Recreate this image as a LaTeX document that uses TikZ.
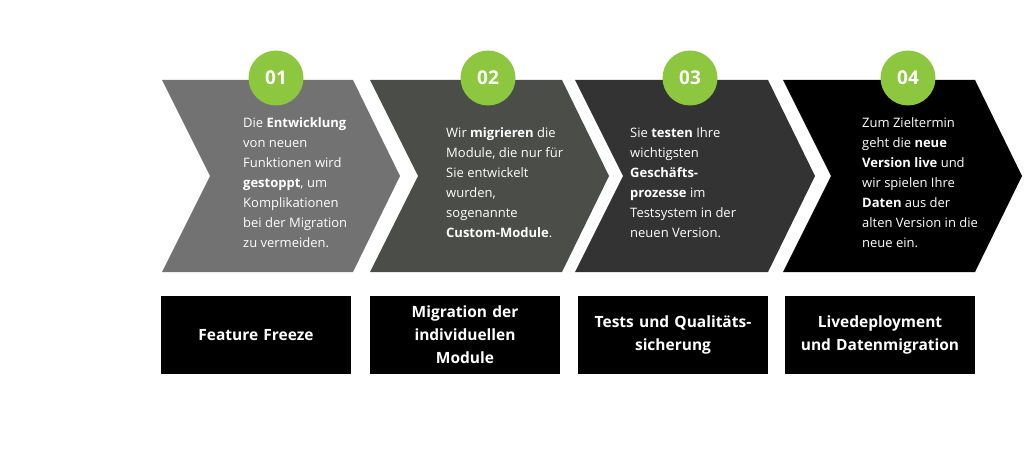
\documentclass[tikz,border=0pt]{standalone}
\usepackage{fontspec}
\setmainfont{Open Sans}
\usetikzlibrary{positioning}
\definecolor{stepgreen}{HTML}{8DC63F}
\definecolor{chevA}{HTML}{727272}
\definecolor{chevB}{HTML}{4B4E48}
\definecolor{chevC}{HTML}{333333}
\definecolor{chevD}{HTML}{000000}
\tikzset{
  numcircle/.style={circle, fill=stepgreen, minimum size=55pt, inner sep=0, text=white, font=\fontsize{19}{19}\selectfont\bfseries},
  desc/.style={anchor=west, align=left, text=white, font=\fontsize{13}{20}\selectfont, inner sep=0},
  labelbox/.style={fill=black, minimum width=190pt, minimum height=78pt, text width=180pt, align=center, text=white, font=\fontsize{15.5}{23}\selectfont\bfseries, inner sep=0},
}
\begin{document}
\begin{tikzpicture}[x=1pt,y=-1pt]
\useasboundingbox (0,0) rectangle (1024,449);
% chevrons
\foreach \l/\r/\c in {162/353/chevA, 370/562/chevB, 575/768/chevC, 783/975/chevD}
  \fill[\c] (\l,80) -- (\r,80) -- (\r+47,176) -- (\r,272) -- (\l,272) -- (\l+48,176) -- cycle;
% numbers
\node[numcircle] (n1) at (276,78) {01};
\node[numcircle] (n2) at (488,78) {02};
\node[numcircle] (n3) at (690,78) {03};
\node[numcircle] (n4) at (908,78) {04};
% descriptions
\node[desc] (d1) at (243,183) {Die \textbf{Entwicklung}\\von neuen\\Funktionen wird\\\textbf{gestoppt}, um\\Komplikationen\\bei der Migration\\zu vermeiden.};
\node[desc] (d2) at (446,183) {Wir \textbf{migrieren} die\\Module, die nur für\\Sie entwickelt\\wurden,\\sogenannte\\\textbf{Custom-Module}.};
\node[desc] (d3) at (630,183) {Sie \textbf{testen} Ihre\\wichtigsten\\\textbf{Geschäfts-}\\\textbf{prozesse} im\\Testsystem in der\\neuen Version.};
\node[desc] (d4) at (862,183) {Zum Zieltermin\\geht die \textbf{neue}\\\textbf{Version live} und\\wir spielen Ihre\\\textbf{Daten} aus der\\alten Version in die\\neue ein.};
% labels
\node[labelbox] (b1) at (256,335) {Feature Freeze};
\node[labelbox] (b2) at (465,335) {Migration der\\individuellen\\Module};
\node[labelbox] (b3) at (673,335) {Tests und Qualitäts-\\sicherung};
\node[labelbox] (b4) at (880,335) {Livedeployment\\und Datenmigration};
\end{tikzpicture}
\end{document}
